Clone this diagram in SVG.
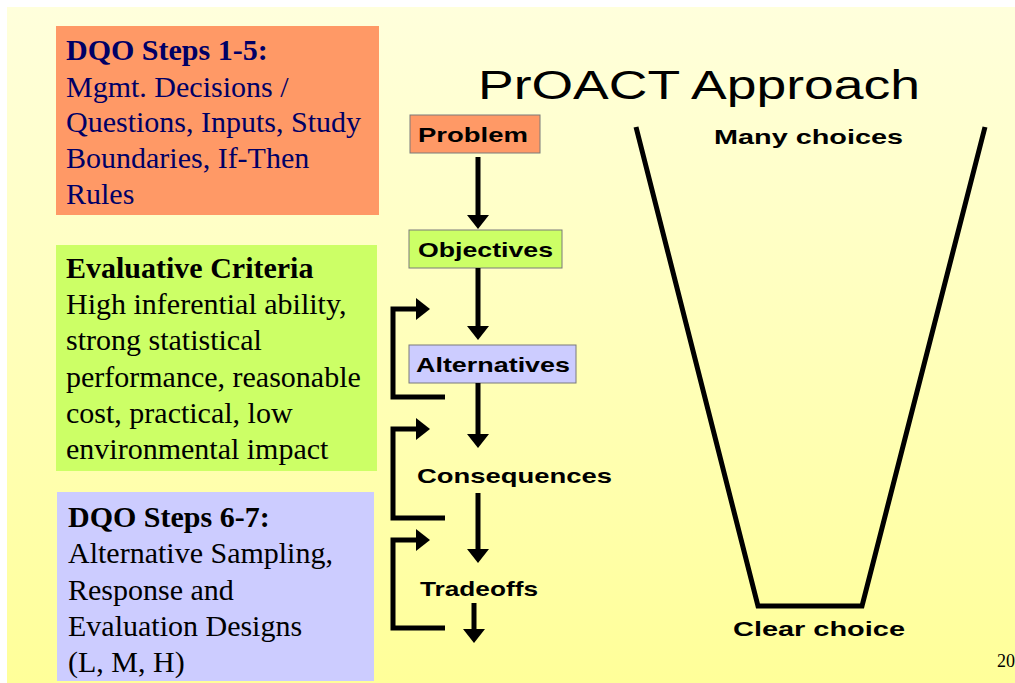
<svg xmlns="http://www.w3.org/2000/svg" width="1015" height="683" viewBox="0 0 1015 683">
<style>
.serif{font-family:"Liberation Serif","Times New Roman",serif;font-size:30px}
.hd{font-weight:bold}
.lbl{font-family:"Liberation Sans",Arial,sans-serif;font-weight:bold;font-size:21px;fill:#000}
.conn{stroke:#000;stroke-width:5;fill:none;stroke-linejoin:miter}
.fbox{stroke:#7a7a7a;stroke-width:1}
</style>
<defs>
<linearGradient id="bg" x1="0" y1="0" x2="0" y2="1">
<stop offset="0" stop-color="#FFFFDC"/>
<stop offset="1" stop-color="#FFFF99"/>
</linearGradient>
<marker id="ah" viewBox="0 0 14 22" refX="1" refY="11" markerWidth="14" markerHeight="22" markerUnits="userSpaceOnUse" orient="auto">
<path d="M0,0 L14,11 L0,22 z" fill="#000"/>
</marker>
</defs>
<rect x="0" y="0" width="1015" height="683" fill="#FFFFFF"/>
<rect x="7" y="7" width="1008" height="676" fill="url(#bg)"/>

<g id="box-dqo15">
<rect x="56" y="26" width="323" height="189" fill="#FF9966"/>
<g class="serif" fill="#000066">
<text x="66" y="60" class="hd">DQO Steps 1-5:</text>
<text x="66" y="97">Mgmt. Decisions /</text>
<text x="66" y="132">Questions, Inputs, Study</text>
<text x="66" y="168">Boundaries, If-Then</text>
<text x="66" y="204">Rules</text>
</g>
</g>

<g id="box-criteria">
<rect x="56" y="245" width="321" height="226" fill="#CCFF66"/>
<g class="serif" fill="#000">
<text x="66" y="278" class="hd">Evaluative Criteria</text>
<text x="66" y="314">High inferential ability,</text>
<text x="66" y="350">strong statistical</text>
<text x="66" y="387">performance, reasonable</text>
<text x="66" y="423">cost, practical, low</text>
<text x="66" y="459">environmental impact</text>
</g>
</g>

<g id="box-dqo67">
<rect x="57" y="492" width="317" height="189" fill="#CCCCFF"/>
<g class="serif" fill="#000">
<text x="68" y="527" class="hd">DQO Steps 6-7:</text>
<text x="68" y="563">Alternative Sampling,</text>
<text x="68" y="600">Response and</text>
<text x="68" y="636">Evaluation Designs</text>
<text x="68" y="672">(L, M, H)</text>
</g>
</g>

<g id="title">
<text x="478" y="99" font-family="Liberation Sans, Arial, sans-serif" font-size="41" fill="#000" textLength="442" lengthAdjust="spacingAndGlyphs">PrOACT Approach</text>
</g>

<g id="node-problem">
<rect class="fbox" x="410" y="115" width="130" height="38" fill="#FF9966"/>
<text class="lbl" x="418" y="142" textLength="110" lengthAdjust="spacingAndGlyphs">Problem</text>
</g>
<g id="node-objectives">
<rect class="fbox" x="409" y="230" width="153" height="38" fill="#CCFF66"/>
<text class="lbl" x="418" y="257" textLength="135" lengthAdjust="spacingAndGlyphs">Objectives</text>
</g>
<g id="node-alternatives">
<rect class="fbox" x="409" y="345" width="167" height="38" fill="#CCCCFF"/>
<text class="lbl" x="416" y="372" textLength="154" lengthAdjust="spacingAndGlyphs">Alternatives</text>
</g>
<g id="node-consequences">
<text class="lbl" x="417" y="483" textLength="195" lengthAdjust="spacingAndGlyphs">Consequences</text>
</g>
<g id="node-tradeoffs">
<text class="lbl" x="420" y="596" textLength="118" lengthAdjust="spacingAndGlyphs">Tradeoffs</text>
</g>

<g id="funnel">
<polyline class="conn" points="636,127 758,606 862,606 985,127"/>
<text class="lbl" x="714" y="144" textLength="189" lengthAdjust="spacingAndGlyphs">Many choices</text>
<text class="lbl" x="733" y="636" textLength="172" lengthAdjust="spacingAndGlyphs">Clear choice</text>
</g>

<g id="connectors">
<line class="conn" x1="478" y1="157" x2="478" y2="216" marker-end="url(#ah)"/>
<line class="conn" x1="478" y1="268" x2="478" y2="327" marker-end="url(#ah)"/>
<line class="conn" x1="478" y1="383" x2="478" y2="435" marker-end="url(#ah)"/>
<line class="conn" x1="478" y1="493" x2="478" y2="550" marker-end="url(#ah)"/>
<line class="conn" x1="474" y1="603" x2="474" y2="630" marker-end="url(#ah)"/>
<path class="conn" d="M445,397 H393 V309 H417" marker-end="url(#ah)"/>
<path class="conn" d="M445,518 H393 V429 H417" marker-end="url(#ah)"/>
<path class="conn" d="M445,628 H393 V540 H417" marker-end="url(#ah)"/>
</g>

<text x="997" y="667" font-family="Liberation Serif, Times New Roman, serif" font-size="18" fill="#000">20</text>
</svg>
